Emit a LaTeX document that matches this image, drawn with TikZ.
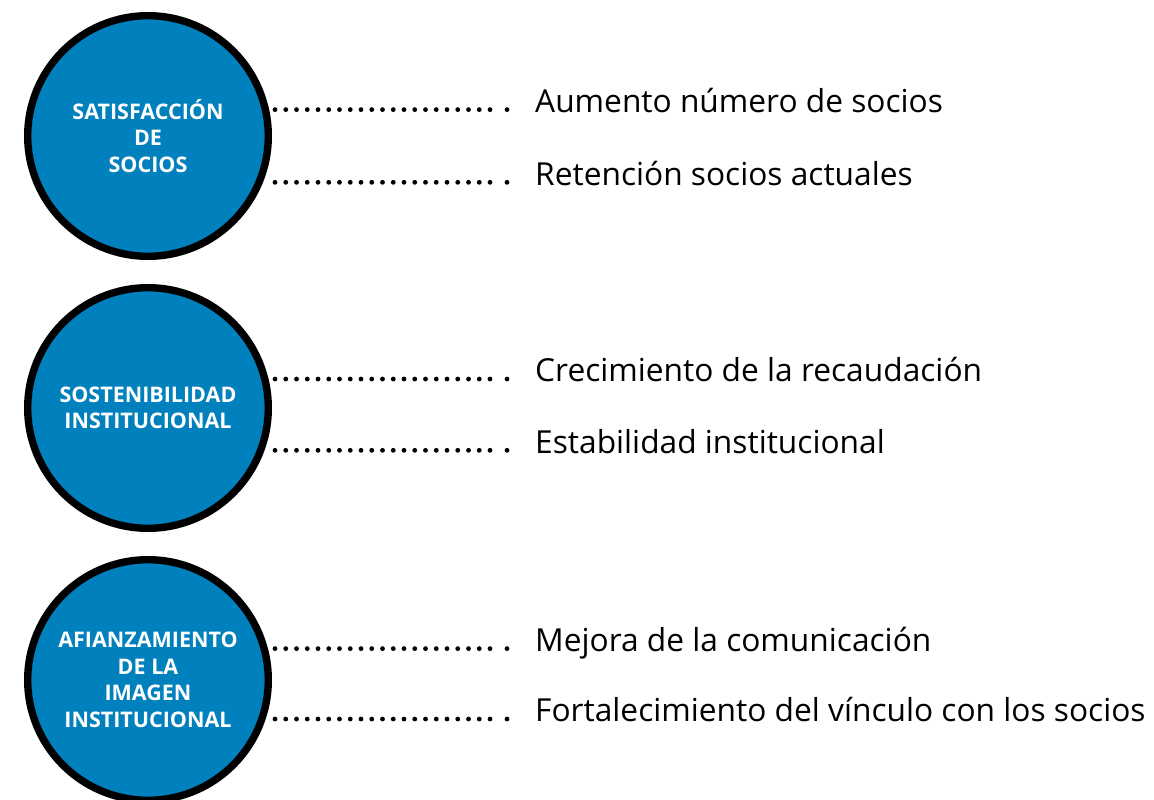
\documentclass[tikz,border=0pt]{standalone}
\usepackage{fontspec}
\setmainfont{Open Sans}
\usetikzlibrary{positioning, shapes.geometric, arrows.meta}
\definecolor{pillarblue}{RGB}{0,128,188}

\begin{document}
\begin{tikzpicture}[x=100pt,y=-100pt]
  \tikzstyle{pillar}=[circle,draw=black,line width=7.4pt,fill=pillarblue,minimum size=240.6pt,
                      inner sep=0pt,text=white,align=center,font=\fontsize{21.5}{26.5}\selectfont\bfseries]
  \tikzstyle{objective}=[anchor=base west,inner sep=0pt,font=\fontsize{31.7}{36}\selectfont]
  \tikzstyle{leader}=[line width=4.8pt,line cap=round,dash pattern=on 0pt off 10.75pt,shorten <=3pt]

  \useasboundingbox (0,0) rectangle (11.54,8.00);

  \node[pillar] (P1) at (1.48,1.36) {SATISFACCIÓN\\DE\\SOCIOS};
  \node[pillar] (P2) at (1.48,4.08) {SOSTENIBILIDAD\\INSTITUCIONAL};
  \node[pillar] (P3) at (1.48,6.80) {AFIANZAMIENTO\\DE LA\\IMAGEN\\INSTITUCIONAL};

  \node[objective] (R1) at (5.35,1.123) {Aumento número de socios};
  \node[objective] (R2) at (5.35,1.85)  {Retención socios actuales};
  \node[objective] (R3) at (5.35,3.817) {Crecimiento de la recaudación};
  \node[objective] (R4) at (5.35,4.53)  {Estabilidad institucional};
  \node[objective] (R5) at (5.35,6.513) {Mejora de la comunicación};
  \node[objective] (R6) at (5.35,7.217) {Fortalecimiento del vínculo con los socios};

  \foreach \p/\r in {P1/R1, P1/R2, P2/R3, P2/R4, P3/R5, P3/R6} {
    \path (\p.east |- \r.mid west) edge[leader] ([xshift=-44pt]\r.mid west);
    \fill ([xshift=-28pt]\r.mid west) circle (2.4pt);
  }
\end{tikzpicture}
\end{document}
